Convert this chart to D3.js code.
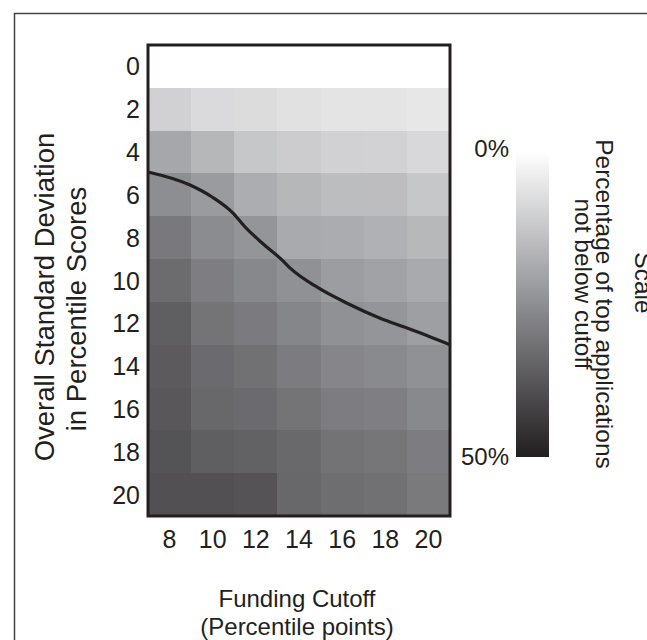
<!DOCTYPE html>
<html>
<head>
<meta charset="utf-8">
<script src="https://cdn.jsdelivr.net/npm/d3@7"></script>
<style>
  html, body { margin: 0; padding: 0; background: #ffffff; }
  svg { display: block; }
  text { font-family: "Liberation Sans", Arial, Helvetica, sans-serif; fill: #231f20; }
</style>
</head>
<body>
<svg id="chart" width="647" height="640"></svg>
<script>
// Funding cutoff (columns) and standard deviation (rows)
const cutoffs = [8, 10, 12, 14, 16, 18, 20];
const deviations = [0, 2, 4, 6, 8, 10, 12, 14, 16, 18, 20];

// Percentage of top applications not below cutoff, one array per deviation row
const sd0  = [0, 0, 0, 0, 0, 0, 0];
const sd2  = [10.1, 8.1, 7.7, 6.6, 5.9, 5.9, 5.3];
const sd4  = [19.5, 16.0, 12.5, 11.2, 10.1, 9.9, 8.6];
const sd6  = [25.0, 22.1, 18.2, 16.0, 14.7, 14.5, 12.5];
const sd8  = [29.7, 25.5, 23.5, 18.9, 18.4, 17.3, 15.8];
const sd10 = [32.8, 28.5, 26.4, 24.3, 21.7, 20.6, 18.9];
const sd12 = [35.8, 30.9, 29.2, 26.9, 24.3, 23.5, 21.3];
const sd14 = [36.6, 33.0, 31.6, 29.0, 26.7, 25.9, 24.3];
const sd16 = [37.3, 33.7, 33.0, 30.9, 28.8, 28.3, 26.2];
const sd18 = [38.4, 35.8, 35.1, 33.5, 31.1, 30.4, 28.8];
const sd20 = [38.9, 38.9, 38.2, 33.7, 32.3, 31.6, 29.5];
const valueRows = [sd0, sd2, sd4, sd6, sd8, sd10, sd12, sd14, sd16, sd18, sd20];

// Contour line over the grid (cutoff, deviation)
const curveCutoff    = [7.0, 8.95, 9.97, 10.94, 11.5, 12.29, 13.22, 13.59, 14.84, 16.23, 17.76, 19.01, 21.0];
const curveDeviation = [4.93, 5.54, 6.10, 6.85, 7.50, 8.25, 9.05, 9.42, 10.31, 11.06, 11.76, 12.22, 13.0];

// Colour scale end labels
const scaleTicks = [0, 50];

const cells = [];
deviations.forEach((d, i) => {
  cutoffs.forEach((c, j) => cells.push({ cutoff: c, sd: d, value: valueRows[i][j] }));
});

const svg = d3.select("#chart");
const ink = "#231f20";

// Outer frame (runs past the right and bottom edges)
svg.append("rect")
  .attr("x", 14.5).attr("y", 13.5)
  .attr("width", 700).attr("height", 700)
  .attr("fill", "none").attr("stroke", "#444").attr("stroke-width", 1.5);

const plotLeft = 148, plotRight = 450, plotTop = 45, plotBottom = 516;

const x = d3.scaleBand().domain(cutoffs).range([plotLeft, plotRight]);
const y = d3.scaleBand().domain(deviations).range([plotTop, plotBottom]);
const xLin = d3.scaleLinear().domain([7, 21]).range([plotLeft, plotRight]);
const yLin = d3.scaleLinear().domain([-1, 21]).range([plotTop, plotBottom]);

const color = d3.scaleLinear()
  .domain([0, 25, 50])
  .range(["#ffffff", "#8d8e92", "#231f20"]);

// Heatmap cells
svg.append("g")
  .selectAll("rect")
  .data(cells)
  .join("rect")
  .attr("x", d => x(d.cutoff))
  .attr("y", d => y(d.sd))
  .attr("width", x.bandwidth() + 0.5)
  .attr("height", y.bandwidth() + 0.5)
  .attr("fill", d => color(d.value))
  .attr("shape-rendering", "crispEdges");

// Contour curve
const curvePts = curveCutoff.map((c, i) => [c, curveDeviation[i]]);
svg.append("path")
  .datum(curvePts)
  .attr("d", d3.line().x(d => xLin(d[0])).y(d => yLin(d[1])).curve(d3.curveMonotoneX))
  .attr("fill", "none")
  .attr("stroke", ink)
  .attr("stroke-width", 3.2);

// Plot border
svg.append("rect")
  .attr("x", plotLeft).attr("y", plotTop)
  .attr("width", plotRight - plotLeft).attr("height", plotBottom - plotTop)
  .attr("fill", "none").attr("stroke", ink).attr("stroke-width", 3);

// Axes (labels only)
const yAxis = svg.append("g")
  .attr("transform", `translate(${plotLeft - 8},0)`)
  .call(d3.axisLeft(y).tickSize(0).tickPadding(0));
yAxis.select(".domain").remove();
yAxis.selectAll("text")
  .attr("font-size", 25).attr("fill", ink).attr("dy", "0.36em")
  .style("font-family", "'Liberation Sans', Arial, sans-serif");

const xAxis = svg.append("g")
  .attr("transform", `translate(0,${plotBottom})`)
  .call(d3.axisBottom(x).tickSize(0).tickPadding(0));
xAxis.select(".domain").remove();
xAxis.selectAll("text")
  .attr("font-size", 25).attr("fill", ink).attr("y", 32).attr("dy", 0)
  .style("font-family", "'Liberation Sans', Arial, sans-serif");

// Axis titles
const yTitle = svg.append("g");
yTitle.append("text")
  .attr("transform", "translate(54,297) rotate(-90)")
  .attr("text-anchor", "middle").attr("font-size", 27.5)
  .text("Overall Standard Deviation");
yTitle.append("text")
  .attr("transform", "translate(86,309) rotate(-90)")
  .attr("text-anchor", "middle").attr("font-size", 27.5)
  .text("in Percentile Scores");

svg.append("text")
  .attr("x", 297).attr("y", 607)
  .attr("text-anchor", "middle").attr("font-size", 24)
  .text("Funding Cutoff");
svg.append("text")
  .attr("x", 297).attr("y", 635)
  .attr("text-anchor", "middle").attr("font-size", 24)
  .text("(Percentile points)");

// Colour bar
const cbLeft = 516, cbWidth = 33;
const cb = d3.scaleLinear().domain([0, 50]).range([152, 457]);
const grad = svg.append("defs").append("linearGradient")
  .attr("id", "scaleGrad").attr("x1", 0).attr("x2", 0).attr("y1", 0).attr("y2", 1);
d3.range(0, 51, 5).forEach(v => {
  grad.append("stop").attr("offset", v / 50).attr("stop-color", color(v));
});
svg.append("rect")
  .attr("x", cbLeft).attr("y", cb(0))
  .attr("width", cbWidth).attr("height", cb(50) - cb(0))
  .attr("fill", "url(#scaleGrad)");

svg.append("g").selectAll("text")
  .data(scaleTicks)
  .join("text")
  .attr("x", 509)
  .attr("y", d => cb(d) + (d === 0 ? 5 : 8))
  .attr("text-anchor", "end").attr("font-size", 24)
  .text(d => d + "%");

// Colour bar title, rotated to read downward
const cbTitle = [
  { text: "Scale", x: 635, y: 283 },
  { text: "Percentage of top applications", x: 596, y: 304 },
  { text: "not below cutoff", x: 575, y: 284 }
];
svg.append("g").selectAll("text")
  .data(cbTitle)
  .join("text")
  .attr("transform", d => `translate(${d.x},${d.y}) rotate(90)`)
  .attr("text-anchor", "middle").attr("font-size", 24.5)
  .text(d => d.text);
</script>
</body>
</html>
